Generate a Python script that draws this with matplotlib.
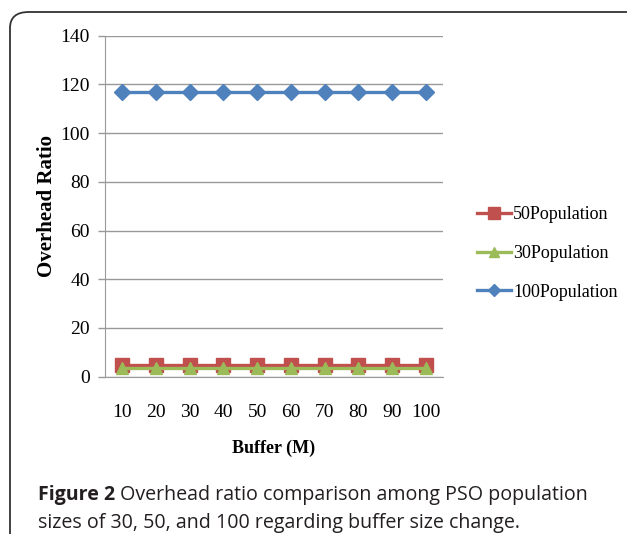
import matplotlib.pyplot as plt
from matplotlib.patches import FancyBboxPatch

buffer_sizes = ['10', '20', '30', '40', '50', '60', '70', '80', '90', '100']
pop50 = [5, 5, 5, 5, 5, 5, 5, 5, 5, 5]
pop30 = [3.5, 3.5, 3.5, 3.5, 3.5, 3.5, 3.5, 3.5, 3.5, 3.5]
pop100 = [117, 117, 117, 117, 117, 117, 117, 117, 117, 117]
y_ticks = [0, 20, 40, 60, 80, 100, 120, 140]

plt.rcParams['font.family'] = ['Liberation Serif', 'DejaVu Serif']

fig = plt.figure(figsize=(6.27, 5.34), dpi=100)
ax = fig.add_axes([0.1675, 0.2946, 0.539, 0.6385])

x = list(range(len(buffer_sizes)))
ax.plot(x, pop50, color='#C0504D', lw=2.4, marker='s', ms=10, label='50Population')
ax.plot(x, pop30, color='#9BBB59', lw=2.4, marker='^', ms=9, label='30Population')
ax.plot(x, pop100, color='#4F81BD', lw=2.4, marker='D', ms=8, label='100Population')

ax.set_xlim(-0.5, len(buffer_sizes) - 0.5)
ax.set_ylim(0, 140)
ax.set_yticks(y_ticks)
ax.set_xticks(x)
ax.set_xticklabels(buffer_sizes)
ax.tick_params(axis='x', length=0, pad=20, labelsize=14)
ax.tick_params(axis='y', length=5, width=1, color='#999999', pad=6, labelsize=14)
ax.grid(axis='y', color='#999999', lw=1)
ax.set_axisbelow(True)
for s in ['top', 'right']:
    ax.spines[s].set_visible(False)
ax.spines['left'].set_color('#999999')
ax.spines['bottom'].set_color('#999999')

ax.set_xlabel('Buffer (M)', fontsize=13, fontweight='bold', labelpad=13)
ax.set_ylabel('Overhead Ratio', fontsize=15, fontweight='bold', labelpad=2)

ax.legend(loc='center left', bbox_to_anchor=(0.735, 0.525), bbox_transform=fig.transFigure,
          frameon=False, fontsize=13, handlelength=1.9, handletextpad=0.1, labelspacing=1.2,
          markerscale=0.8)

# frame round the figure
box = FancyBboxPatch((10 / 627, -0.1), 1.2, (534 - 12) / 534 + 0.1,
                     boxstyle='round,pad=0,rounding_size=0.03', transform=fig.transFigure,
                     fill=False, ec='#333333', lw=1.3)
fig.patches.append(box)

# caption
cap = dict(fontsize=14.1, family=['Open Sans', 'DejaVu Sans'], color='#231f20')
t1 = fig.text(38 / 627, 1 - 500 / 534, 'Figure 2', fontweight='bold', **cap)
fig.canvas.draw()
bb = t1.get_window_extent()
fig.text(bb.x1 / 627 + 0.008, 1 - 500 / 534, 'Overhead ratio comparison among PSO population', **cap)
fig.text(38 / 627, 1 - 528 / 534, 'sizes of 30, 50, and 100 regarding buffer size change.', **cap)

fig.savefig('out.png', dpi=100)
